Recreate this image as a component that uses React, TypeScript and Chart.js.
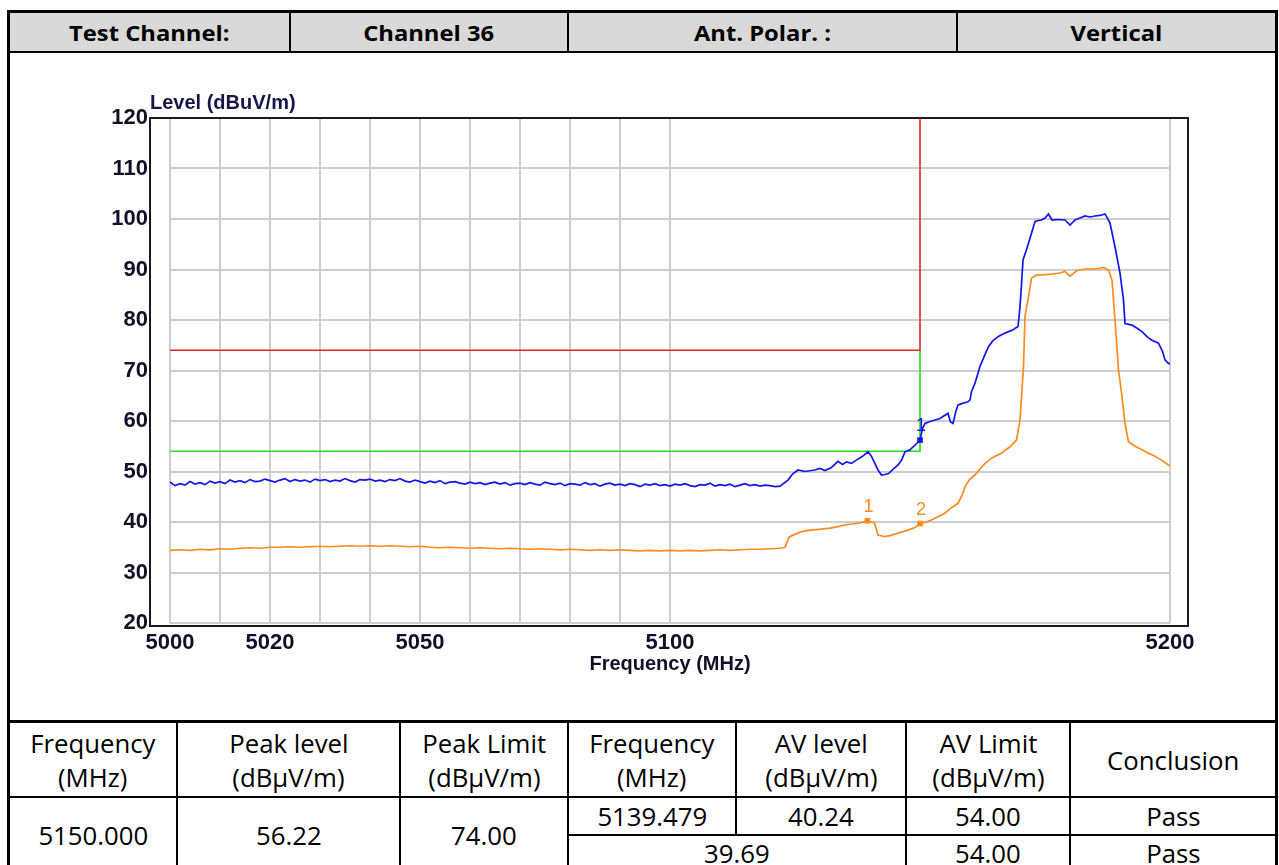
import React, { useEffect, useRef } from 'react';
import { Chart, registerables } from 'chart.js';

Chart.register(...registerables);

// ---------- DATA ----------
const peakFreq = [
  5000, 5001, 5002, 5003, 5004, 5005, 5006, 5007, 5008, 5009,
  5010, 5011, 5012, 5013, 5014, 5015, 5016, 5017, 5018, 5019,
  5020, 5021, 5022, 5023, 5024, 5025, 5026, 5027, 5028, 5029,
  5030, 5031, 5032, 5033, 5034, 5035, 5036, 5037, 5038, 5039,
  5040, 5041, 5042, 5043, 5044, 5045, 5046, 5047, 5048, 5049,
  5050, 5051, 5052, 5053, 5054, 5055, 5056, 5057, 5058, 5059,
  5060, 5061, 5062, 5063, 5064, 5065, 5066, 5067, 5068, 5069,
  5070, 5071, 5072, 5073, 5074, 5075, 5076, 5077, 5078, 5079,
  5080, 5081, 5082, 5083, 5084, 5085, 5086, 5087, 5088, 5089,
  5090, 5091, 5092, 5093, 5094, 5095, 5096, 5097, 5098, 5099,
  5100, 5101, 5102, 5103, 5104, 5105, 5106, 5107, 5108, 5109,
  5110, 5111, 5112, 5113, 5114, 5115, 5116, 5117, 5118, 5119,
  5120, 5121, 5122,
  5123.6, 5124.5, 5125.6, 5127, 5128.9, 5130, 5131, 5132.3, 5133.6, 5134.5,
  5135.3, 5136.3, 5137.5, 5138.5, 5139.6, 5140.3, 5141.6, 5142.3, 5143, 5143.7,
  5144.6, 5145.6, 5146.3, 5147, 5148, 5149, 5150, 5150.5, 5151, 5152,
  5153, 5154, 5154.6, 5155.6, 5156.1, 5156.6, 5157.2, 5157.6, 5158.5, 5159.6,
  5160, 5160.3, 5161, 5162, 5163, 5163.7, 5164.5, 5165.6, 5166.5, 5167.7,
  5168.5, 5169.6, 5170, 5170.3, 5170.6, 5171.3, 5172.3, 5173, 5173.7, 5174.3,
  5175, 5175.7, 5176.4, 5177.5, 5179, 5180, 5181, 5182, 5183, 5184,
  5185, 5186, 5187, 5188, 5189, 5190, 5190.7, 5191, 5192.4, 5193.5,
  5194.4, 5195.5, 5196.4, 5197.7, 5198.5, 5199, 5199.7, 5200,
];
const peakLevel = [
  47.9, 47.2, 47.6, 47.3, 48.0, 47.5, 47.8, 47.4, 48.1, 47.7,
  48.0, 47.6, 48.3, 47.9, 48.2, 47.8, 48.4, 48.0, 48.1, 48.5,
  48.2, 47.9, 48.3, 48.6, 48.0, 48.4, 48.1, 48.3, 47.9, 48.5,
  48.2, 48.4, 48.0, 48.3, 48.1, 48.6, 48.2, 47.9, 48.4, 48.3,
  48.5, 48.1, 48.3, 48.0, 48.4, 48.2, 48.6, 48.1, 47.9, 48.3,
  48.0, 47.7, 48.1, 47.8, 48.2, 47.6, 47.9, 48.0, 47.7, 47.5,
  47.9, 47.6, 47.8, 47.4, 47.7, 47.9, 47.5, 47.8, 47.3, 47.6,
  47.7, 47.4, 47.8, 47.5, 47.3, 47.9, 47.6, 47.4, 47.7, 47.2,
  47.6, 47.5, 47.3, 47.8, 47.4, 47.6, 47.1, 47.5, 47.7, 47.3,
  47.5, 47.2, 47.6, 47.4, 47.0, 47.5, 47.3, 47.6, 47.2, 47.4,
  47.1, 47.5, 47.3, 47.6, 47.2, 47.0, 47.4, 47.3, 47.7, 47.1,
  47.4, 47.2, 47.5, 47.0, 47.3, 47.6, 47.2, 47.4, 47.1, 47.3,
  47.2, 47.0, 47.1,
  48.3, 49.5, 50.3, 50.0, 50.3, 50.6, 50.2, 50.8, 52.0, 51.4,
  51.9, 51.6, 52.4, 53.0, 53.9, 53.0, 50.3, 49.3, 49.4, 49.6,
  50.4, 51.3, 52.2, 53.9, 54.3, 55.2, 56.22, 58.5, 59.5, 59.9,
  60.2, 60.5, 60.9, 61.5, 59.8, 59.5, 62.0, 63.2, 63.5, 63.8,
  64.2, 65.8, 67.5, 70.8, 73.2, 74.7, 75.8, 76.7, 77.2, 77.7,
  78.0, 78.7, 82.6, 87.0, 91.9, 93.9, 97.2, 99.5, 99.7, 99.8,
  100.2, 101.0, 99.8, 99.9, 99.8, 98.8, 99.8, 100.2, 100.6, 100.4,
  100.6, 100.7, 101.0, 99.2, 94.5, 89.3, 84.0, 79.3, 79.0, 78.3,
  77.7, 76.6, 76.0, 75.4, 73.8, 72.1, 71.4, 71.3,
];

const avgFreq = [
  5000, 5002, 5004, 5006, 5008, 5010, 5012, 5014, 5016, 5018,
  5020, 5022, 5024, 5026, 5028, 5030, 5032, 5034, 5036, 5038,
  5040, 5042, 5044, 5046, 5048, 5050, 5052, 5054, 5056, 5058,
  5060, 5062, 5064, 5066, 5068, 5070, 5072, 5074, 5076, 5078,
  5080, 5082, 5084, 5086, 5088, 5090, 5092, 5094, 5096, 5098,
  5100, 5102, 5104, 5106, 5108, 5110, 5112, 5114, 5116, 5118,
  5120, 5122,
  5123, 5123.8, 5124.6, 5126.3, 5128, 5130.3, 5132, 5133.6, 5135, 5136.3,
  5138, 5139.479, 5140.9, 5141.3, 5141.6, 5142.9, 5144, 5145.6, 5147.6, 5149,
  5150, 5151, 5152.3, 5153.5, 5154.9, 5156, 5157.6, 5158.5, 5159, 5160,
  5161, 5162, 5163, 5164, 5165, 5166.3, 5167, 5168, 5169.3, 5170,
  5170.3, 5170.7, 5171, 5171.7, 5172.3, 5173.3, 5175, 5176.4, 5178, 5179,
  5180, 5181.4, 5183, 5184.5, 5185.7, 5186.7, 5187.7, 5188.4, 5189, 5189.7,
  5190.4, 5191, 5191.7, 5193, 5194.4, 5195.7, 5197, 5198.5, 5199.7, 5200,
];
const avgLevel = [
  34.4, 34.5, 34.4, 34.6, 34.5, 34.7, 34.6, 34.8, 34.9, 34.8,
  35.0, 35.0, 35.1, 35.0, 35.1, 35.2, 35.1, 35.2, 35.3, 35.2,
  35.3, 35.2, 35.3, 35.2, 35.1, 35.2, 35.0, 34.9, 35.0, 34.9,
  34.8, 34.9, 34.8, 34.7, 34.8, 34.7, 34.6, 34.7, 34.6, 34.5,
  34.6, 34.5, 34.4, 34.5, 34.4, 34.5, 34.4, 34.3, 34.4, 34.3,
  34.4, 34.3, 34.4, 34.3, 34.4, 34.5, 34.4, 34.5, 34.6, 34.6,
  34.7, 34.8,
  35.0, 37.0, 37.4, 38.1, 38.4, 38.6, 38.8, 39.1, 39.4, 39.6,
  39.8, 40.24, 39.8, 38.5, 37.4, 37.1, 37.3, 37.8, 38.4, 38.9,
  39.69, 39.9, 40.4, 41.0, 41.7, 42.6, 43.7, 45.5, 47.0, 48.5,
  49.3, 50.5, 51.6, 52.4, 53.0, 53.6, 54.2, 54.9, 56.2, 60.2,
  64.8, 70.8, 80.7, 84.6, 88.3, 88.9, 89.0, 89.1, 89.3, 89.6,
  88.7, 89.8, 90.1, 90.1, 90.2, 90.4, 89.9, 87.9, 80.0, 70.1,
  64.8, 59.5, 55.9, 55.0, 54.3, 53.6, 53.0, 52.1, 51.3, 51.2,
];

const peakLimitFreq = [5000, 5150, 5150];
const peakLimitLevel = [74, 74, 120];
const avgLimitFreq = [5000, 5150, 5150];
const avgLimitLevel = [54, 54, 74];

const markerFreq = [5150, 5139.479, 5150];
const markerLevel = [56.22, 40.24, 39.69];
const markerLabel = ['1', '1', '2'];

const xGridTicks = [5000, 5010, 5020, 5030, 5040, 5050, 5060, 5070, 5080, 5090, 5100, 5200];
const xLabelTicks = [5000, 5020, 5050, 5100, 5200];
const yMin = 20;
const yMax = 120;
const yStep = 10;

// ---------- STYLES ----------
const BLUE = '#1414ee';
const ORANGE = '#ff8a1e';
const RED = '#e42424';
const GREEN = '#22dd22';
const GRID = '#cdcdcd';
const AXIS_TEXT = '#101028';
const CHART_FONT = '"Liberation Sans", Arial, sans-serif';
const markerColors = [BLUE, ORANGE, ORANGE];

const toPts = (xs: number[], ys: number[]) => xs.map((x, i) => ({ x, y: ys[i] }));

type CellProps = { l: number; t: number; r: number; b: number; lines: string[]; bold?: boolean; size: number; sx: number };
const Cell = ({ l, t, r, b, lines, bold, size, sx }: CellProps) => (
  <div
    style={{
      position: 'absolute', left: l, top: t, width: r - l, height: b - t,
      display: 'flex', flexDirection: 'column', alignItems: 'center', justifyContent: 'center',
      fontFamily: '"Open Sans", sans-serif', fontSize: size, fontWeight: bold ? 700 : 400,
      lineHeight: '34px', color: '#000',
    }}
  >
    {lines.map((s, i) => (
      <span key={i} style={{ display: 'inline-block', transform: `scaleX(${sx})`, whiteSpace: 'nowrap' }}>{s}</span>
    ))}
  </div>
);

const Line = ({ l, t, w, h }: { l: number; t: number; w: number; h: number }) => (
  <div style={{ position: 'absolute', left: l, top: t, width: w, height: h, background: '#000' }} />
);

export default function App() {
  const ref = useRef<HTMLCanvasElement>(null);

  useEffect(() => {
    if (!ref.current) return;
    const tickFont = { family: CHART_FONT, size: 22, weight: 'bold' as const };
    const titleFont = { family: CHART_FONT, size: 20, weight: 'bold' as const };

    const decor = {
      id: 'decor',
      beforeDatasetsDraw(chart: any) {
        const { ctx, chartArea: a } = chart;
        ctx.save();
        ctx.strokeStyle = '#1a1a1a';
        ctx.lineWidth = 2;
        ctx.strokeRect(a.left - 20, a.top, a.right - a.left + 38, a.bottom - a.top + 3);
        ctx.fillStyle = '#16164a';
        ctx.font = `bold 20px ${CHART_FONT}`;
        ctx.textBaseline = 'middle';
        ctx.textAlign = 'left';
        ctx.fillText('Level (dBuV/m)', a.left - 20, a.top - 15);
        ctx.restore();
      },
      afterDatasetsDraw(chart: any) {
        const { ctx } = chart;
        const meta = chart.getDatasetMeta(0);
        ctx.save();
        ctx.font = `18px ${CHART_FONT}`;
        ctx.textAlign = 'center';
        ctx.textBaseline = 'bottom';
        meta.data.forEach((pt: any, i: number) => {
          ctx.fillStyle = markerColors[i];
          ctx.fillText(markerLabel[i], pt.x + 1, pt.y - 5);
        });
        ctx.restore();
      },
    };

    const chart = new Chart(ref.current, {
      type: 'line',
      data: {
        datasets: [
          {
            data: toPts(markerFreq, markerLevel),
            showLine: false,
            pointStyle: 'rect',
            pointRadius: 4,
            pointBackgroundColor: markerColors,
            pointBorderColor: markerColors,
            borderWidth: 0,
          },
          { data: toPts(peakFreq, peakLevel), borderColor: BLUE, borderWidth: 1.7, pointRadius: 0, tension: 0 },
          { data: toPts(avgFreq, avgLevel), borderColor: ORANGE, borderWidth: 1.7, pointRadius: 0, tension: 0 },
          { data: toPts(peakLimitFreq, peakLimitLevel), borderColor: RED, borderWidth: 1.6, pointRadius: 0, tension: 0 },
          { data: toPts(avgLimitFreq, avgLimitLevel), borderColor: GREEN, borderWidth: 1.6, pointRadius: 0, tension: 0 },
        ],
      },
      options: {
        animation: false,
        responsive: false,
        layout: { padding: { left: 0, top: 65, right: 105, bottom: 44 } },
        plugins: { legend: { display: false }, tooltip: { enabled: false } },
        scales: {
          x: {
            type: 'linear',
            min: 5000,
            max: 5200,
            afterBuildTicks: (s: any) => { s.ticks = xGridTicks.map((v) => ({ value: v })); },
            afterFit: (s: any) => { s.height = 53; },
            ticks: {
              autoSkip: false, maxRotation: 0, minRotation: 0, padding: 7,
              font: tickFont, color: AXIS_TEXT,
              callback: (v: any) => (xLabelTicks.includes(Number(v)) ? String(v) : ''),
            },
            grid: { color: GRID, lineWidth: 2, drawTicks: false },
            border: { display: false },
            title: { display: true, text: 'Frequency (MHz)', font: titleFont, color: AXIS_TEXT, padding: { top: 0, bottom: 0 } },
          },
          y: {
            type: 'linear',
            min: yMin,
            max: yMax,
            afterFit: (s: any) => { s.width = 160; },
            ticks: { stepSize: yStep, padding: 22, font: tickFont, color: AXIS_TEXT },
            grid: { color: GRID, lineWidth: 2, drawTicks: false },
            border: { display: false },
          },
        },
      },
      plugins: [decor],
    });
    return () => chart.destroy();
  }, []);

  const S = 25; // body font size
  const SX = 1.03;
  const HS = 22;
  const HSX = 1.08;

  return (
    <div style={{ position: 'absolute', left: 0, top: 0, width: 1279, height: 865, overflow: 'hidden', background: '#fff' }}>
      {/* outer border */}
      <div style={{ position: 'absolute', left: 7, top: 10, width: 1271, height: 900, border: '3px solid #000', boxSizing: 'border-box' }} />
      {/* header row */}
      <div style={{ position: 'absolute', left: 10, top: 13, width: 1265, height: 38, background: '#d9d9d9' }} />
      <Line l={10} t={51} w={1265} h={2} />
      <Line l={289} t={13} w={2} h={38} />
      <Line l={567} t={13} w={2} h={38} />
      <Line l={956} t={13} w={2} h={38} />
      <Cell l={10} t={13} r={289} b={51} lines={['Test Channel:']} bold size={HS} sx={HSX} />
      <Cell l={291} t={13} r={567} b={51} lines={['Channel 36']} bold size={HS} sx={HSX} />
      <Cell l={569} t={13} r={956} b={51} lines={['Ant. Polar. :']} bold size={HS} sx={HSX} />
      <Cell l={958} t={13} r={1275} b={51} lines={['Vertical']} bold size={HS} sx={HSX} />

      {/* chart */}
      <canvas ref={ref} width={1265} height={667} style={{ position: 'absolute', left: 10, top: 53 }} />
      <Line l={10} t={720} w={1265} h={3} />

      {/* bottom table lines */}
      <Line l={10} t={796} w={1265} h={2} />
      <Line l={569} t={834} w={706} h={2} />
      <Line l={176} t={723} w={2} h={150} />
      <Line l={399} t={723} w={2} h={150} />
      <Line l={567} t={723} w={2} h={150} />
      <Line l={735} t={723} w={2} h={111} />
      <Line l={905} t={723} w={2} h={150} />
      <Line l={1069} t={723} w={2} h={150} />

      {/* bottom table header */}
      <Cell l={10} t={723} r={176} b={796} lines={['Frequency', '(MHz)']} size={S} sx={SX} />
      <Cell l={178} t={723} r={399} b={796} lines={['Peak level', '(dBμV/m)']} size={S} sx={SX} />
      <Cell l={401} t={723} r={567} b={796} lines={['Peak Limit', '(dBμV/m)']} size={S} sx={SX} />
      <Cell l={569} t={723} r={735} b={796} lines={['Frequency', '(MHz)']} size={S} sx={SX} />
      <Cell l={737} t={723} r={905} b={796} lines={['AV level', '(dBμV/m)']} size={S} sx={SX} />
      <Cell l={907} t={723} r={1069} b={796} lines={['AV Limit', '(dBμV/m)']} size={S} sx={SX} />
      <Cell l={1071} t={723} r={1275} b={796} lines={['Conclusion']} size={S} sx={SX} />

      {/* bottom table rows */}
      <Cell l={10} t={798} r={176} b={872} lines={['5150.000']} size={S} sx={SX} />
      <Cell l={178} t={798} r={399} b={872} lines={['56.22']} size={S} sx={SX} />
      <Cell l={401} t={798} r={567} b={872} lines={['74.00']} size={S} sx={SX} />
      <Cell l={569} t={798} r={735} b={834} lines={['5139.479']} size={S} sx={SX} />
      <Cell l={737} t={798} r={905} b={834} lines={['40.24']} size={S} sx={SX} />
      <Cell l={907} t={798} r={1069} b={834} lines={['54.00']} size={S} sx={SX} />
      <Cell l={1071} t={798} r={1275} b={834} lines={['Pass']} size={S} sx={SX} />
      <Cell l={569} t={836} r={905} b={870} lines={['39.69']} size={S} sx={SX} />
      <Cell l={907} t={836} r={1069} b={870} lines={['54.00']} size={S} sx={SX} />
      <Cell l={1071} t={836} r={1275} b={870} lines={['Pass']} size={S} sx={SX} />
    </div>
  );
}
